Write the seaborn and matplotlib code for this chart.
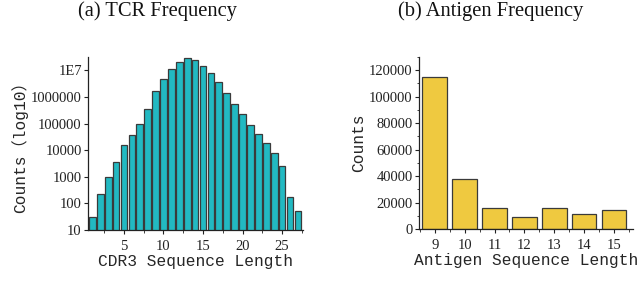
import numpy as np
import pandas as pd
import matplotlib
matplotlib.use("Agg")
import matplotlib.pyplot as plt
from matplotlib.ticker import FixedLocator, MultipleLocator, LogLocator, NullFormatter
import seaborn as sns

# ---- data ----
tcr_lengths = list(range(1, 28))
tcr_counts = [32, 225, 940, 3500, 16000, 37000, 98000, 355000, 1.6e6, 4.6e6,
              1.15e7, 2.0e7, 2.8e7, 2.5e7, 1.5e7, 7.6e6, 3.5e6, 1.4e6, 5.5e5,
              2.2e5, 9.1e4, 4.1e4, 1.86e4, 7600, 2450, 170, 51]
tcr_ytick_vals = [10, 100, 1000, 10000, 100000, 1000000, 10000000]
tcr_ytick_labels = ["10", "100", "1000", "10000", "100000", "1000000", "1E7"]
tcr_xticks = [5, 10, 15, 20, 25]

ag_lengths = [9, 10, 11, 12, 13, 14, 15]
ag_counts = [114600, 37600, 15800, 9300, 16100, 11600, 14600]
ag_yticks = [0, 20000, 40000, 60000, 80000, 100000, 120000]

sns.set_theme(style="ticks")
plt.rcParams['font.family'] = ['Liberation Serif', 'DejaVu Serif']

label_font = dict(family=['Liberation Mono', 'Noto Sans CJK SC'], size=11.7)
tick_size = 10.5
edge = '#3a3a3a'

fig = plt.figure(figsize=(6.4, 2.94), dpi=100)
ax1 = fig.add_axes([88/640, 1-230/294, 215/640, 173/294])
ax2 = fig.add_axes([419/640, 1-229/294, 214/640, 172/294])

df1 = pd.DataFrame({"len": tcr_lengths, "count": tcr_counts})
sns.barplot(data=df1, x="len", y="count", native_scale=True, ax=ax1,
            color="#22b9c2", saturation=1, width=0.85,
            edgecolor=edge, linewidth=0.9)
ax1.set_yscale('log')
ax1.set_ylim(10, 10**7.5)
ax1.set_xlim(0.45, 27.65)
ax1.yaxis.set_major_locator(FixedLocator(tcr_ytick_vals))
ax1.set_yticklabels(tcr_ytick_labels)
ax1.yaxis.set_minor_locator(LogLocator(base=10, subs=np.arange(2, 10)))
ax1.yaxis.set_minor_formatter(NullFormatter())
ax1.xaxis.set_major_locator(FixedLocator(tcr_xticks))
ax1.set_xticklabels([str(t) for t in tcr_xticks])
ax1.xaxis.set_minor_locator(MultipleLocator(2.5))
ax1.set_xlabel("CDR3 Sequence Length", fontdict=label_font, labelpad=0.5)
ax1.set_ylabel("Counts（log10）", fontdict=label_font, labelpad=2)

df2 = pd.DataFrame({"len": ag_lengths, "count": ag_counts})
sns.barplot(data=df2, x="len", y="count", native_scale=True, ax=ax2,
            color="#efc940", saturation=1, width=0.83,
            edgecolor=edge, linewidth=0.9)
ax2.set_ylim(0, 130000)
ax2.set_xlim(8.47, 15.64)
ax2.yaxis.set_major_locator(FixedLocator(ag_yticks))
ax2.set_yticklabels([str(t) for t in ag_yticks])
ax2.yaxis.set_minor_locator(MultipleLocator(10000))
ax2.xaxis.set_major_locator(FixedLocator(ag_lengths))
ax2.set_xticklabels([str(t) for t in ag_lengths])
ax2.xaxis.set_minor_locator(MultipleLocator(0.5))
ax2.set_xlabel("Antigen Sequence Length", fontdict=label_font, labelpad=0.5)
ax2.set_ylabel("Counts", fontdict=label_font, labelpad=2)

for ax in (ax1, ax2):
    sns.despine(ax=ax)
    for s in ('left', 'bottom'):
        ax.spines[s].set_color('#222222')
        ax.spines[s].set_linewidth(0.9)
    ax.tick_params(axis='both', which='major', length=3, width=0.8, color='#222222',
                   labelsize=tick_size, pad=1.5, labelcolor='#222222')
    ax.tick_params(axis='x', which='major', pad=4.5)
    ax.tick_params(axis='both', which='minor', length=1.8, width=0.6, color='#222222')

fig.text(157/640, 1-11/294, "(a) TCR Frequency", ha='center', va='center',
         fontsize=14.8, family='Liberation Serif', color='#111111')
fig.text(491/640, 1-11/294, "(b) Antigen Frequency", ha='center', va='center',
         fontsize=14.8, family='Liberation Serif', color='#111111')

fig.savefig("out.png", dpi=100)
